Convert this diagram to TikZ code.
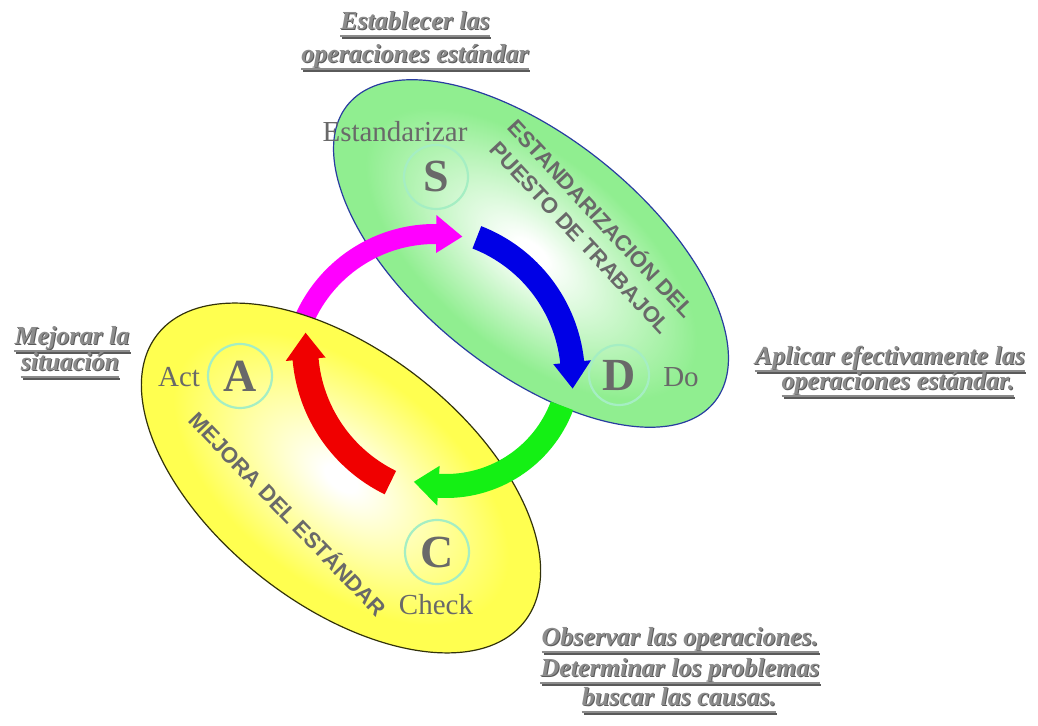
\documentclass[tikz,border=0pt]{standalone}
\usepackage{fontspec}
\setmainfont{Liberation Serif}
\setsansfont{Liberation Sans}
\usetikzlibrary{calc}

\definecolor{ellgreen}{RGB}{144,238,144}
\definecolor{ellyellow}{RGB}{255,255,80}
\definecolor{txtgray}{RGB}{105,105,105}
\definecolor{lblgray}{RGB}{140,140,140}
\definecolor{lblshadow}{RGB}{90,90,90}
\definecolor{ringcol}{RGB}{165,238,195}
\definecolor{greenedge}{RGB}{40,60,160}
\definecolor{yellowedge}{RGB}{50,50,10}
\definecolor{arrmag}{RGB}{255,0,255}
\definecolor{arrblue}{RGB}{0,0,230}
\definecolor{arrgreen}{RGB}{20,240,20}
\definecolor{arrred}{RGB}{240,0,0}

\pgfdeclareradialshading{greenell}{\pgfpoint{0bp}{0bp}}{color(0bp)=(white); color(2bp)=(white); color(21bp)=(ellgreen); color(25bp)=(ellgreen); color(50bp)=(ellgreen)}
\pgfdeclareradialshading{yellowell}{\pgfpoint{0bp}{0bp}}{color(0bp)=(white); color(2bp)=(white); color(21bp)=(ellyellow); color(25bp)=(ellyellow); color(50bp)=(ellyellow)}

\tikzset{
  lbl/.style={font=\fontsize{26}{28}\selectfont\bfseries\itshape, text=lblgray, inner sep=0pt},
  lblsh/.style={lbl, text=lblshadow},
  ul/.style={draw=lblgray, line width=1.6pt},
  ulsh/.style={draw=lblshadow, line width=1.6pt},
  phase/.style={font=\fontsize{29}{31}\selectfont, text=txtgray, inner sep=0pt},
  letter/.style={font=\fontsize{46}{48}\selectfont\bfseries, text=txtgray},
  ring/.style={draw=ringcol, line width=2.2pt, circle, minimum size=64pt, inner sep=0pt},
  band/.style={font=\sffamily\bfseries\fontsize{22}{28}\selectfont, text=txtgray, align=center, inner sep=0pt},
}

% #1 name, #2 x, #3 baseline y, #4 text
\newcommand\ullabel[4]{%
  \node[lblsh, anchor=base] (#1s) at ({#2+1},{#3-1}) {#4};
  \path[ulsh] ([shift={(1pt,-7pt)}]#1s.base west) -- ([shift={(0pt,-7pt)}]#1s.base east);
  \node[lbl, anchor=base] (#1) at (#2,#3) {#4};
  \path[ul] ([yshift=-6pt]#1.base west) -- ([yshift=-6pt]#1.base east);
}

% #1 colour, #2 centre, #3 radius, #4 half width, #5 head half width,
% #6 start angle, #7 head base angle, #8 tip angle
\newcommand\cycarrow[8]{%
  \fill[#1, shift={(#2)}] (#6:{#3+#4}) arc[start angle=#6, end angle=#7, radius={#3+#4}]
    -- (#7:{#3+#5}) -- (#8:#3) -- (#7:{#3-#5}) -- (#7:{#3-#4})
    arc[start angle=#7, end angle=#6, radius={#3-#4}] -- cycle;
}

\begin{document}
\begin{tikzpicture}[x=1pt, y=1pt]
  \useasboundingbox (0,0) rectangle (1038,725);
  \fill[white] (0,0) rectangle (1038,725);

  % green ellipse
  \begin{scope}[transform canvas={rotate around={-39:(531,471.5)}}]
    \shade[shading=greenell] (531,471.5) ellipse [x radius=236, y radius=116];
    \draw[greenedge, line width=1.2pt] (531,471.5) ellipse [x radius=236, y radius=116];
  \end{scope}

  % magenta arrow (under the yellow ellipse)
  \coordinate (cm) at (435,348);
  \cycarrow{arrmag}{cm}{143}{10}{19}{162}{89.5}{79}

  % yellow ellipse
  \begin{scope}[transform canvas={rotate around={-38:(341,247)}}]
    \shade[shading=yellowell] (341,247) ellipse [x radius=233, y radius=127];
    \draw[yellowedge, line width=1.2pt] (341,247) ellipse [x radius=233, y radius=127];
  \end{scope}

  % other arrows
  \coordinate (cb) at (422,347);
  \cycarrow{arrblue}{cb}{151}{12}{19}{68.7}{6}{-4}
  \coordinate (cg) at (446,363);
  \cycarrow{arrgreen}{cg}{124}{12}{20}{-20.7}{-93.5}{-105}
  \coordinate (cr) at (457,379);
  \cycarrow{arrred}{cr}{152}{13}{20}{244}{185}{175}

  % rings with letters
  \node[ring, letter] (S) at (436,548) {S};
  \node[ring, letter] (A) at (240,349) {A};
  \node[ring, letter, minimum size=60pt] (D) at (619,350) {D};
  \node[ring, letter] (C) at (437,173) {C};

  % phase names
  \node[phase, anchor=base] (est) at (395,583) {Estandarizar};
  \node[phase, anchor=base] (act) at (179,338) {Act};
  \node[phase, anchor=base] (do) at (681,338) {Do};
  \node[phase, anchor=base] (chk) at (436,110) {Check};

  % rotated band texts
  \node[band, rotate=-47] (stdtxt) at (592,498) {ESTANDARIZACIÓN DEL\\PUESTO DE TRABAJOL};
  \node[band, rotate=-46] (mejtxt) at (289,212) {MEJORA DEL ESTÁNDAR};

  % underlined outer labels
  \ullabel{la}{415}{695}{Establecer las}
  \ullabel{lb}{415}{662}{operaciones estándar}
  \ullabel{lc}{72}{380}{Mejorar la}
  \ullabel{ld}{70}{354}{situación}
  \ullabel{le}{890}{360}{Aplicar efectivamente las}
  \ullabel{lf}{898}{335}{operaciones estándar.}
  \ullabel{lg}{680}{79}{Observar las operaciones.}
  \ullabel{lh}{680}{48}{Determinar los problemas}
  \ullabel{li}{679}{19}{buscar las causas.}
\end{tikzpicture}
\end{document}
